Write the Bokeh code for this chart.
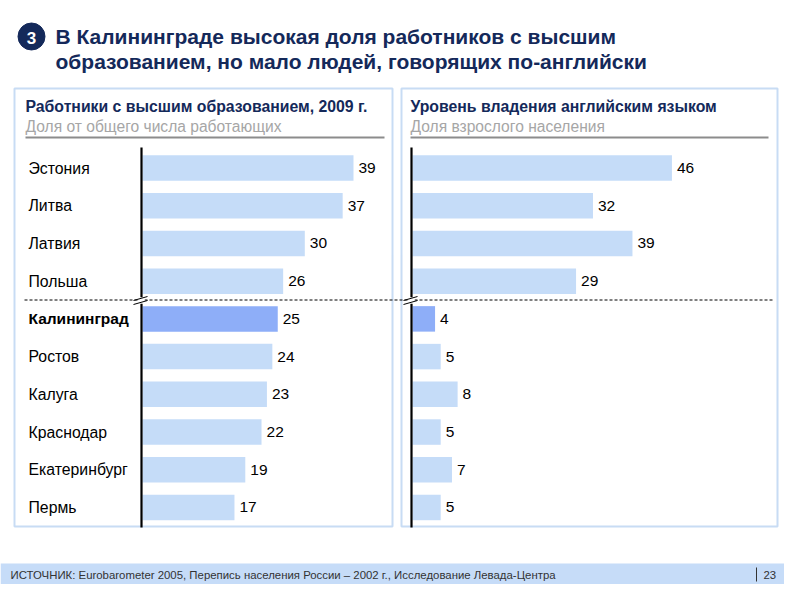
from bokeh.plotting import figure
from bokeh.models import Range1d
from bokeh.core.properties import value
from bokeh.embed import file_html
from bokeh.resources import INLINE

# ---------------- data ----------------
regions = ["Эстония", "Литва", "Латвия", "Польша", "Калининград",
           "Ростов", "Калуга", "Краснодар", "Екатеринбург", "Пермь"]
higher_edu = [39, 37, 30, 26, 25, 24, 23, 22, 19, 17]
english = [46, 32, 39, 29, 4, 5, 8, 5, 7, 5]
highlight = "Калининград"

title_lines = ["В Калининграде высокая доля работников с высшим",
               "образованием, но мало людей, говорящих по-английски"]
left_title = "Работники с высшим образованием, 2009 г."
left_sub = "Доля от общего числа работающих"
right_title = "Уровень владения английским языком"
right_sub = "Доля взрослого населения"
source = "ИСТОЧНИК: Eurobarometer 2005, Перепись населения России – 2002 г., Исследование Левада-Центра"
page_no = "23"

# ---------------- layout constants (screen px) ----------------
W, H = 784, 584
X0, X1, Y0, Y1 = 0, W, H, 0
ROW0, ROW_STEP = 167.5, 37.72                 # centre of first row, row pitch
L_ORIGIN, L_SCALE = 142, 5.41
R_ORIGIN, R_SCALE = 412, 5.64

NAVY = "#14295a"
BAR = "#c5dcf8"
BAR_HI = "#8eaef8"
PANEL = "#c8dcf4"
FONT = "Liberation Sans"

p = figure(width=W, height=H, output_backend="svg", toolbar_location=None,
           x_range=Range1d(X0, X1), y_range=Range1d(Y0, Y1),
           x_axis_type=None, y_axis_type=None, min_border=0)
p.outline_line_color = None
p.xgrid.visible = False
p.ygrid.visible = False
p.background_fill_color = "white"
p.border_fill_color = "white"

p.extra_y_ranges = {"rows": Range1d((Y0 - ROW0) / ROW_STEP, (Y1 - ROW0) / ROW_STEP)}
p.extra_x_ranges = {
    "left": Range1d((X0 - L_ORIGIN) / L_SCALE, (X1 - L_ORIGIN) / L_SCALE),
    "right": Range1d((X0 - R_ORIGIN) / R_SCALE, (X1 - R_ORIGIN) / R_SCALE),
}

# ---------------- header ----------------
p.scatter([31], [36], size=27, color=NAVY)
p.text([31], [37], text=["3"], text_color="white", text_font=value(FONT),
       text_font_style="bold", text_font_size="17px",
       text_align="center", text_baseline="middle")
p.text([55, 55], [36, 61], text=title_lines, text_color=NAVY, text_font=value(FONT),
       text_font_size="21px", text_baseline="middle", text_font_style="bold")

# ---------------- panels ----------------
p.quad(left=[14, 401], right=[392, 777], top=[88, 88], bottom=[526, 526],
       fill_color=None, line_color=PANEL, line_width=2)
p.text([25, 410], [106, 106], text=[left_title, right_title], text_color=NAVY,
       text_font=value(FONT), text_font_style="bold", text_font_size="15.8px",
       text_baseline="middle")
p.text([25, 410], [126, 126], text=[left_sub, right_sub], text_color="#a6a6a6",
       text_font=value(FONT), text_font_size="15.6px", text_baseline="middle")
p.segment(x0=[25, 410], y0=[137, 137], x1=[384, 768], y1=[137, 137],
          line_color="#8c8c8c", line_width=2)

rows = list(range(len(regions)))
colors = [BAR_HI if r == highlight else BAR for r in regions]
bh = 25.5 / ROW_STEP

# left bars
p.hbar(y=rows, left=0, right=higher_edu, height=bh, fill_color=colors,
       line_color=None, x_range_name="left", y_range_name="rows")
p.text(x=higher_edu, y=rows, text=[str(v) for v in higher_edu], x_offset=5,
       text_font=value(FONT), text_font_size="15.5px", text_baseline="middle",
       text_color="black", x_range_name="left", y_range_name="rows")
# right bars
p.hbar(y=rows, left=0, right=english, height=bh, fill_color=colors,
       line_color=None, x_range_name="right", y_range_name="rows")
p.text(x=english, y=rows, text=[str(v) for v in english], x_offset=5,
       text_font=value(FONT), text_font_size="15.5px", text_baseline="middle",
       text_color="black", x_range_name="right", y_range_name="rows")

# category labels
normal = [r if r != highlight else "" for r in regions]
bold = [r if r == highlight else "" for r in regions]
p.text(x=[28] * len(regions), y=rows, text=normal, text_font=value(FONT),
       text_font_size="15.8px", text_baseline="middle", text_color="black",
       y_range_name="rows")
p.text(x=[28] * len(regions), y=rows, text=bold, text_font=value(FONT),
       text_font_size="15.5px", text_font_style="bold", text_baseline="middle",
       text_color="black", y_range_name="rows")

# dashed separator
p.segment(x0=[24], y0=[299.5], x1=[772], y1=[299.5], line_color="black",
          line_width=1, line_dash="3 2")

# axis lines with break marks
for ax in (141, 411):
    p.segment(x0=[ax, ax], y0=[147, 303], x1=[ax, ax], y1=[297, 527],
              line_color="black", line_width=2.2)
    p.quad(left=[ax - 3], right=[ax + 3], top=[297], bottom=[303],
           fill_color="white", line_color=None)
    p.segment(x0=[ax - 8, ax - 8], y0=[300, 304], x1=[ax + 6, ax + 6],
              y1=[296, 300], line_color="black", line_width=1)

# ---------------- footer ----------------
p.quad(left=[X0], right=[X1], top=[563], bottom=[H], fill_color="#c6dcf8",
       line_color=None)
p.text([10], [574], text=[source], text_font=value(FONT), text_font_size="11.4px",
       text_baseline="middle", text_color="#333333")
p.segment(x0=[756], y0=[567], x1=[756], y1=[581], line_color="#333333", line_width=1)
p.text([763], [574], text=[page_no], text_font=value(FONT), text_font_size="11.4px",
       text_baseline="middle", text_color="#333333")

open("out.html", "w").write(file_html(p, INLINE))
